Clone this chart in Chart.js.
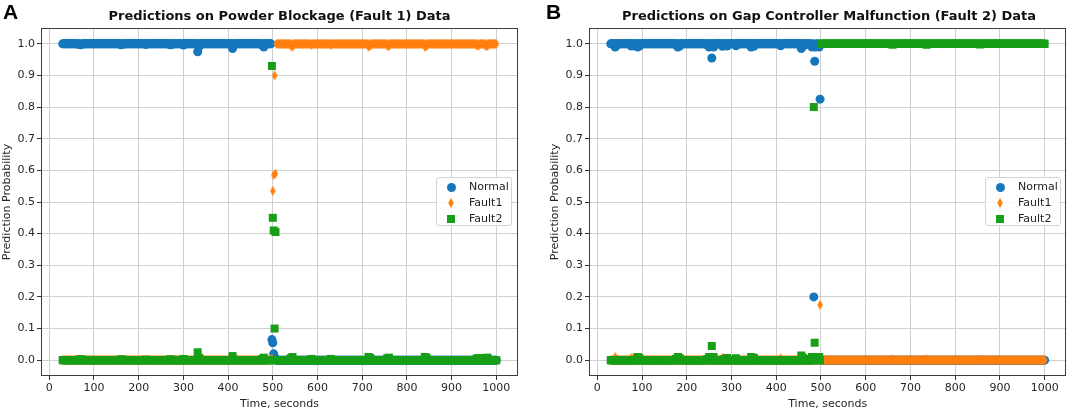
<!DOCTYPE html>
<html>
<head>
<meta charset="utf-8">
<script src="https://cdn.jsdelivr.net/npm/chart.js@4.4.1/dist/chart.umd.min.js"></script>
<style>
  body { margin: 0; background: #fff; }
  #wrap { position: relative; width: 1072px; height: 412px; background: #fff; overflow: hidden; }
  .panel { position: absolute; top: 0; width: 536px; height: 412px; }
  .letter { position: absolute; top: 0; font: bold 21px 'Liberation Sans', Arial, sans-serif; color: #000; }
  .title { position: absolute; top: 8px; text-align: center; font: bold 13px 'DejaVu Sans', sans-serif; color: #111; white-space: nowrap; }
  .legend { position: absolute; top: 177px; width: 76px; height: 49px; box-sizing: border-box; padding-top: 1px;
            border: 1px solid #d4d4d4; border-radius: 3px; background: rgba(255,255,255,0.85);
            font: 11px 'DejaVu Sans', sans-serif; color: #222; }
  .legend .row { position: relative; height: 16px; line-height: 16px; }
  .legend .row canvas { position: absolute; top: 50%; }
  .legend .row span { position: absolute; left: 32px; top: 0; }
</style>
</head>
<body>
<div id="wrap">
  <div class="panel" style="left:0"><canvas id="chartA" width="536" height="412"></canvas></div>
  <div class="panel" style="left:536px"><canvas id="chartB" width="536" height="412"></canvas></div>
  <div class="letter" style="left:3px">A</div>
  <div class="letter" style="left:546px">B</div>
  <div class="title" style="left:41px;width:477px">Predictions on Powder Blockage (Fault 1) Data</div>
  <div class="title" style="left:590px;width:478px">Predictions on Gap Controller Malfunction (Fault 2) Data</div>
  <div class="legend" id="legendA" style="left:436px"></div>
  <div class="legend" id="legendB" style="left:985px"></div>
</div>
<script>
// ---- data ----
const seriesNames = ['Normal', 'Fault1', 'Fault2'];
const seriesColors = ['#1677bd', '#ff7f0e', '#179f17'];
const seriesShapes = ['circle', 'diamond', 'square'];

const xTicks = [0, 100, 200, 300, 400, 500, 600, 700, 800, 900, 1000];
const yTicks = [0, 0.1, 0.2, 0.3, 0.4, 0.5, 0.6, 0.7, 0.8, 0.9, 1.0];

// sample times (s), shared by both runs; 20 per row
const timeSec = [
  30, 32, 34, 36, 38, 40, 42, 44, 46, 48,  50, 52, 54, 56, 58, 60, 62, 64, 66, 68,
  70, 72, 74, 76, 78, 80, 82, 84, 86, 88,  90, 92, 94, 96, 98, 100, 102, 104, 106, 108,
  110, 112, 114, 116, 118, 120, 122, 124, 126, 128,  130, 132, 134, 136, 138, 140, 142, 144, 146, 148,
  150, 152, 154, 156, 158, 160, 162, 164, 166, 168,  170, 172, 174, 176, 178, 180, 182, 184, 186, 188,
  190, 192, 194, 196, 198, 200, 202, 204, 206, 208,  210, 212, 214, 216, 218, 220, 222, 224, 226, 228,
  230, 232, 234, 236, 238, 240, 242, 244, 246, 248,  250, 252, 254, 256, 258, 260, 262, 264, 266, 268,
  270, 272, 274, 276, 278, 280, 282, 284, 286, 288,  290, 292, 294, 296, 298, 300, 302, 304, 306, 308,
  310, 312, 314, 316, 318, 320, 322, 324, 326, 328,  330, 332, 334, 336, 338, 340, 342, 344, 346, 348,
  350, 352, 354, 356, 358, 360, 362, 364, 366, 368,  370, 372, 374, 376, 378, 380, 382, 384, 386, 388,
  390, 392, 394, 396, 398, 400, 402, 404, 406, 408,  410, 412, 414, 416, 418, 420, 422, 424, 426, 428,
  430, 432, 434, 436, 438, 440, 442, 444, 446, 448,  450, 452, 454, 456, 458, 460, 462, 464, 466, 468,
  470, 472, 474, 476, 478, 480, 482, 484, 486, 488,  490, 492, 494, 496, 498, 500, 502, 504, 506, 508,
  510, 512, 514, 516, 518, 520, 522, 524, 526, 528,  530, 532, 534, 536, 538, 540, 542, 544, 546, 548,
  550, 552, 554, 556, 558, 560, 562, 564, 566, 568,  570, 572, 574, 576, 578, 580, 582, 584, 586, 588,
  590, 592, 594, 596, 598, 600, 602, 604, 606, 608,  610, 612, 614, 616, 618, 620, 622, 624, 626, 628,
  630, 632, 634, 636, 638, 640, 642, 644, 646, 648,  650, 652, 654, 656, 658, 660, 662, 664, 666, 668,
  670, 672, 674, 676, 678, 680, 682, 684, 686, 688,  690, 692, 694, 696, 698, 700, 702, 704, 706, 708,
  710, 712, 714, 716, 718, 720, 722, 724, 726, 728,  730, 732, 734, 736, 738, 740, 742, 744, 746, 748,
  750, 752, 754, 756, 758, 760, 762, 764, 766, 768,  770, 772, 774, 776, 778, 780, 782, 784, 786, 788,
  790, 792, 794, 796, 798, 800, 802, 804, 806, 808,  810, 812, 814, 816, 818, 820, 822, 824, 826, 828,
  830, 832, 834, 836, 838, 840, 842, 844, 846, 848,  850, 852, 854, 856, 858, 860, 862, 864, 866, 868,
  870, 872, 874, 876, 878, 880, 882, 884, 886, 888,  890, 892, 894, 896, 898, 900, 902, 904, 906, 908,
  910, 912, 914, 916, 918, 920, 922, 924, 926, 928,  930, 932, 934, 936, 938, 940, 942, 944, 946, 948,
  950, 952, 954, 956, 958, 960, 962, 964, 966, 968,  970, 972, 974, 976, 978, 980, 982, 984, 986, 988,
  990, 992, 994, 996, 998, 1000
];

// Panel A: powder blockage (fault 1) run
const normalA = [
  1, 1, 1, 1, 1, 1, 1, 1, 1, 1,  1, 1, 1, 1, 1, 1, 1, 1, 0.998, 1,
  0.997, 0.998, 1, 1, 1, 1, 1, 1, 1, 1,  1, 1, 1, 1, 1, 1, 1, 1, 1, 1,
  1, 1, 1, 1, 1, 1, 1, 1, 1, 1,  1, 1, 1, 1, 1, 1, 1, 1, 1, 1,
  1, 1, 1, 1, 1, 0.997, 1, 0.998, 1, 1,  1, 1, 1, 1, 1, 1, 1, 1, 1, 1,
  1, 1, 1, 1, 1, 1, 1, 1, 1, 1,  1, 1, 1, 0.998, 1, 1, 1, 1, 1, 1,
  1, 1, 1, 1, 1, 1, 1, 1, 1, 1,  1, 1, 1, 1, 1, 1, 1, 1, 1, 1,
  0.997, 1, 0.998, 1, 1, 1, 1, 1, 1, 1,  1, 1, 1, 1, 1, 0.996, 1, 1, 1, 1,
  1, 1, 1, 1, 1, 1, 1, 1, 1, 1,  1, 0.975, 1, 0.993, 1, 1, 1, 1, 1, 1,
  1, 1, 1, 1, 1, 1, 1, 1, 1, 1,  1, 1, 1, 1, 1, 1, 1, 1, 1, 1,
  1, 1, 1, 1, 1, 1, 1, 1, 1, 1,  0.985, 1, 0.998, 1, 1, 1, 1, 1, 1, 1,
  1, 1, 1, 1, 1, 1, 1, 1, 1, 1,  1, 1, 1, 1, 1, 1, 1, 1, 1, 1,
  1, 1, 1, 0.996, 1, 0.99, 1, 1, 1, 1,  1, 1, 1, 1, 0.065, 0.055, 0.02, 0.01, 0.005, 0,
  0, 0, 0, 0, 0, 0, 0, 0, 0, 0,  0, 0, 0, 0, 0, 0, 0, 0, 0, 0,
  0, 0, 0, 0, 0, 0, 0, 0, 0, 0,  0, 0, 0, 0, 0, 0, 0, 0, 0, 0,
  0, 0, 0, 0, 0, 0, 0, 0, 0, 0,  0, 0, 0, 0, 0, 0, 0, 0, 0, 0,
  0, 0, 0, 0, 0, 0, 0, 0, 0, 0,  0, 0, 0, 0, 0, 0, 0, 0, 0, 0,
  0, 0, 0, 0, 0, 0, 0, 0, 0, 0,  0, 0, 0, 0, 0, 0, 0, 0, 0, 0,
  0, 0, 0, 0, 0, 0, 0, 0, 0, 0,  0, 0, 0, 0, 0, 0, 0, 0, 0, 0,
  0, 0, 0, 0, 0, 0, 0, 0, 0, 0,  0, 0, 0, 0, 0, 0, 0, 0, 0, 0,
  0, 0, 0, 0, 0, 0, 0, 0, 0, 0,  0, 0, 0, 0, 0, 0, 0, 0, 0, 0,
  0, 0, 0, 0, 0, 0, 0, 0, 0, 0,  0, 0, 0, 0, 0, 0, 0, 0, 0, 0,
  0, 0, 0, 0, 0, 0, 0, 0, 0, 0,  0, 0, 0, 0, 0, 0, 0, 0, 0, 0,
  0, 0, 0, 0, 0, 0, 0, 0, 0, 0,  0, 0, 0, 0, 0, 0, 0, 0, 0, 0,
  0, 0, 0, 0, 0, 0, 0, 0, 0, 0,  0, 0, 0, 0, 0, 0, 0, 0, 0, 0,
  0, 0, 0, 0, 0, 0
];
const fault1A = [
  0, 0, 0, 0, 0, 0, 0, 0, 0, 0,  0, 0, 0, 0, 0, 0, 0, 0, 0, 0,
  0, 0, 0, 0, 0, 0, 0, 0, 0, 0,  0, 0, 0, 0, 0, 0, 0, 0, 0, 0,
  0, 0, 0, 0, 0, 0, 0, 0, 0, 0,  0, 0, 0, 0, 0, 0, 0, 0, 0, 0,
  0, 0, 0, 0, 0, 0, 0, 0, 0, 0,  0, 0, 0, 0, 0, 0, 0, 0, 0, 0,
  0, 0, 0, 0, 0, 0, 0, 0, 0, 0,  0, 0, 0, 0, 0, 0, 0, 0, 0, 0,
  0, 0, 0, 0, 0, 0, 0, 0, 0, 0,  0, 0, 0, 0, 0, 0, 0, 0, 0, 0,
  0, 0, 0, 0, 0, 0, 0, 0, 0, 0,  0, 0, 0, 0, 0, 0, 0, 0, 0, 0,
  0, 0, 0, 0, 0, 0, 0, 0, 0, 0,  0, 0, 0, 0, 0, 0, 0, 0, 0, 0,
  0, 0, 0, 0, 0, 0, 0, 0, 0, 0,  0, 0, 0, 0, 0, 0, 0, 0, 0, 0,
  0, 0, 0, 0, 0, 0, 0, 0, 0, 0,  0, 0, 0, 0, 0, 0, 0, 0, 0, 0,
  0, 0, 0, 0, 0, 0, 0, 0, 0, 0,  0, 0, 0, 0, 0, 0, 0, 0, 0, 0,
  0, 0, 0, 0, 0, 0, 0, 0, 0, 0,  0, 0, 0, 0, 0.005, 0.535, 0.585, 0.9, 0.59, 1,
  1, 1, 1, 1, 1, 1, 1, 1, 1, 1,  1, 1, 1, 1, 1, 0.994, 1, 0.99, 1, 1,
  1, 1, 1, 1, 1, 1, 1, 1, 1, 1,  1, 1, 1, 1, 1, 1, 1, 1, 0.996, 1,
  1, 1, 1, 1, 1, 1, 1, 1, 1, 1,  1, 1, 1, 1, 1, 1, 1, 1, 1, 1,
  0.996, 1, 1, 1, 1, 1, 1, 1, 1, 1,  1, 1, 1, 1, 1, 1, 1, 1, 1, 1,
  1, 1, 1, 1, 1, 1, 1, 1, 1, 1,  1, 1, 1, 1, 1, 1, 1, 1, 1, 1,
  1, 1, 0.99, 1, 0.993, 1, 1, 1, 1, 1,  1, 1, 1, 1, 1, 1, 1, 1, 1, 1,
  1, 1, 1, 0.994, 1, 0.992, 1, 1, 1, 1,  1, 1, 1, 1, 1, 1, 1, 1, 1, 1,
  1, 1, 1, 1, 1, 1, 1, 1, 1, 1,  1, 1, 1, 1, 1, 1, 1, 1, 1, 1,
  1, 1, 1, 1, 1, 0.99, 1, 0.992, 1, 1,  1, 1, 1, 1, 1, 1, 1, 1, 1, 1,
  1, 1, 1, 1, 1, 1, 1, 1, 1, 1,  1, 1, 1, 1, 1, 1, 1, 1, 1, 1,
  1, 1, 1, 1, 1, 1, 1, 1, 1, 1,  1, 1, 1, 1, 1, 1, 1, 1, 1, 1,
  1, 1, 1, 0.995, 1, 0.993, 1, 1, 1, 1,  1, 1, 1, 0.993, 1, 0.992, 1, 1, 1, 1,
  1, 1, 1, 1, 1, 1
];
const fault2A = [
  0, 0, 0, 0, 0, 0, 0, 0, 0, 0,  0, 0, 0, 0, 0, 0, 0, 0, 0.002, 0,
  0.003, 0.002, 0, 0, 0, 0, 0, 0, 0, 0,  0, 0, 0, 0, 0, 0, 0, 0, 0, 0,
  0, 0, 0, 0, 0, 0, 0, 0, 0, 0,  0, 0, 0, 0, 0, 0, 0, 0, 0, 0,
  0, 0, 0, 0, 0, 0.003, 0, 0.002, 0, 0,  0, 0, 0, 0, 0, 0, 0, 0, 0, 0,
  0, 0, 0, 0, 0, 0, 0, 0, 0, 0,  0, 0, 0, 0.002, 0, 0, 0, 0, 0, 0,
  0, 0, 0, 0, 0, 0, 0, 0, 0, 0,  0, 0, 0, 0, 0, 0, 0, 0, 0, 0,
  0.003, 0, 0.002, 0, 0, 0, 0, 0, 0, 0,  0, 0, 0, 0, 0, 0.004, 0, 0, 0, 0,
  0, 0, 0, 0, 0, 0, 0, 0, 0, 0,  0, 0.025, 0, 0.007, 0, 0, 0, 0, 0, 0,
  0, 0, 0, 0, 0, 0, 0, 0, 0, 0,  0, 0, 0, 0, 0, 0, 0, 0, 0, 0,
  0, 0, 0, 0, 0, 0, 0, 0, 0, 0,  0.013, 0, 0.002, 0, 0, 0, 0, 0, 0, 0,
  0, 0, 0, 0, 0, 0, 0, 0, 0, 0,  0, 0, 0, 0, 0, 0, 0, 0, 0, 0,
  0, 0, 0, 0.004, 0, 0.008, 0, 0, 0, 0,  0, 0, 0, 0, 0.93, 0.45, 0.41, 0.1, 0.405, 0,
  0, 0, 0, 0, 0, 0, 0, 0, 0, 0,  0, 0, 0, 0, 0, 0.006, 0, 0.01, 0, 0,
  0, 0, 0, 0, 0, 0, 0, 0, 0, 0,  0, 0, 0, 0, 0, 0, 0, 0, 0.004, 0,
  0, 0, 0, 0, 0, 0, 0, 0, 0, 0,  0, 0, 0, 0, 0, 0, 0, 0, 0, 0,
  0.004, 0, 0, 0, 0, 0, 0, 0, 0, 0,  0, 0, 0, 0, 0, 0, 0, 0, 0, 0,
  0, 0, 0, 0, 0, 0, 0, 0, 0, 0,  0, 0, 0, 0, 0, 0, 0, 0, 0, 0,
  0, 0, 0.01, 0, 0.007, 0, 0, 0, 0, 0,  0, 0, 0, 0, 0, 0, 0, 0, 0, 0,
  0, 0, 0, 0.006, 0, 0.008, 0, 0, 0, 0,  0, 0, 0, 0, 0, 0, 0, 0, 0, 0,
  0, 0, 0, 0, 0, 0, 0, 0, 0, 0,  0, 0, 0, 0, 0, 0, 0, 0, 0, 0,
  0, 0, 0, 0, 0, 0.01, 0, 0.008, 0, 0,  0, 0, 0, 0, 0, 0, 0, 0, 0, 0,
  0, 0, 0, 0, 0, 0, 0, 0, 0, 0,  0, 0, 0, 0, 0, 0, 0, 0, 0, 0,
  0, 0, 0, 0, 0, 0, 0, 0, 0, 0,  0, 0, 0, 0, 0, 0, 0, 0, 0, 0,
  0, 0, 0, 0.005, 0, 0.007, 0, 0, 0, 0,  0, 0, 0, 0.007, 0, 0.008, 0, 0, 0, 0,
  0, 0, 0, 0, 0, 0
];

// Panel B: gap controller malfunction (fault 2) run
const normalB = [
  1, 1, 1, 1, 1, 0.99, 1, 0.996, 1, 1,  1, 1, 1, 1, 1, 1, 1, 1, 1, 1,
  1, 1, 1, 0.993, 1, 0.994, 1, 1, 1, 1,  0.99, 1, 0.993, 1, 1, 1, 1, 1, 1, 1,
  1, 1, 1, 1, 1, 1, 1, 1, 1, 1,  1, 1, 1, 1, 1, 1, 1, 1, 1, 1,
  1, 1, 1, 1, 1, 1, 1, 1, 1, 1,  1, 1, 1, 0.996, 1, 0.99, 1, 0.993, 1, 1,
  1, 1, 1, 1, 1, 1, 1, 1, 1, 1,  1, 1, 1, 1, 1, 1, 1, 1, 1, 1,
  1, 1, 1, 1, 1, 1, 1, 1, 0.996, 1,  0.99, 1, 1, 0.955, 1, 0.99, 1, 1, 1, 1,
  1, 1, 1, 1, 1, 0.992, 1, 0.996, 1, 1,  0.993, 1, 1, 1, 1, 1, 1, 1, 1, 1,
  0.994, 1, 1, 1, 1, 1, 1, 1, 1, 1,  1, 1, 1, 1, 1, 1, 1, 0.99, 1, 1,
  0.992, 1, 1, 1, 1, 1, 1, 1, 1, 1,  1, 1, 1, 1, 1, 1, 1, 1, 1, 1,
  1, 1, 1, 1, 1, 1, 1, 1, 1, 1,  0.994, 1, 1, 1, 1, 1, 1, 1, 1, 1,
  1, 1, 1, 1, 1, 1, 1, 1, 1, 1,  1, 1, 1, 0.985, 1, 0.992, 1, 1, 1, 1,
  1, 1, 1, 0.996, 1, 0.99, 1, 0.2, 0.945, 0.99,  1, 0.995, 1, 0.99, 0.825, 0, 0, 0, 0, 0,
  0, 0, 0, 0, 0, 0, 0, 0, 0, 0,  0, 0, 0, 0, 0, 0, 0, 0, 0, 0,
  0, 0, 0, 0, 0, 0, 0, 0, 0, 0,  0, 0, 0, 0, 0, 0, 0, 0, 0, 0,
  0, 0, 0, 0, 0, 0, 0, 0, 0, 0,  0, 0, 0, 0, 0, 0, 0, 0, 0, 0,
  0, 0, 0, 0, 0, 0, 0, 0, 0, 0,  0, 0, 0, 0, 0, 0, 0, 0, 0, 0,
  0, 0, 0, 0, 0, 0, 0, 0, 0, 0,  0, 0, 0, 0, 0, 0, 0, 0, 0, 0,
  0, 0, 0, 0, 0, 0, 0, 0, 0, 0,  0, 0, 0, 0, 0, 0, 0, 0, 0, 0,
  0, 0, 0, 0, 0, 0, 0, 0, 0, 0,  0, 0, 0, 0, 0, 0, 0, 0, 0, 0,
  0, 0, 0, 0, 0, 0, 0, 0, 0, 0,  0, 0, 0, 0, 0, 0, 0, 0, 0, 0,
  0, 0, 0, 0, 0, 0, 0, 0, 0, 0,  0, 0, 0, 0, 0, 0, 0, 0, 0, 0,
  0, 0, 0, 0, 0, 0, 0, 0, 0, 0,  0, 0, 0, 0, 0, 0, 0, 0, 0, 0,
  0, 0, 0, 0, 0, 0, 0, 0, 0, 0,  0, 0, 0, 0, 0, 0, 0, 0, 0, 0,
  0, 0, 0, 0, 0, 0, 0, 0, 0, 0,  0, 0, 0, 0, 0, 0, 0, 0, 0, 0,
  0, 0, 0, 0, 0, 0
];
const fault1B = [
  0, 0, 0, 0, 0, 0.01, 0, 0.004, 0, 0,  0, 0, 0, 0, 0, 0, 0, 0, 0, 0,
  0, 0, 0, 0.007, 0, 0.006, 0, 0, 0, 0,  0, 0, 0, 0, 0, 0, 0, 0, 0, 0,
  0, 0, 0, 0, 0, 0, 0, 0, 0, 0,  0, 0, 0, 0, 0, 0, 0, 0, 0, 0,
  0, 0, 0, 0, 0, 0, 0, 0, 0, 0,  0, 0, 0, 0, 0, 0, 0, 0, 0, 0,
  0, 0, 0, 0, 0, 0, 0, 0, 0, 0,  0, 0, 0, 0, 0, 0, 0, 0, 0, 0,
  0, 0, 0, 0, 0, 0, 0, 0, 0, 0,  0, 0, 0, 0, 0, 0, 0, 0, 0, 0,
  0, 0, 0, 0, 0, 0.008, 0, 0, 0, 0,  0, 0, 0, 0, 0, 0, 0, 0, 0, 0,
  0, 0, 0, 0, 0, 0, 0, 0, 0, 0,  0, 0, 0, 0, 0, 0, 0, 0, 0, 0,
  0, 0, 0, 0, 0, 0, 0, 0, 0, 0,  0, 0, 0, 0, 0, 0, 0, 0, 0, 0,
  0, 0, 0, 0, 0, 0, 0, 0, 0, 0,  0.006, 0, 0, 0, 0, 0, 0, 0, 0, 0,
  0, 0, 0, 0, 0, 0, 0, 0, 0, 0,  0, 0, 0, 0, 0, 0, 0, 0, 0, 0,
  0, 0, 0, 0, 0, 0, 0, 0, 0, 0,  0, 0, 0, 0, 0.175, 0, 0, 0, 0, 0,
  0, 0, 0, 0, 0, 0, 0, 0, 0, 0,  0, 0, 0, 0, 0, 0, 0, 0, 0, 0,
  0, 0, 0, 0, 0, 0, 0, 0, 0, 0,  0, 0, 0, 0, 0, 0, 0, 0, 0, 0,
  0, 0, 0, 0, 0, 0, 0, 0, 0, 0,  0, 0, 0, 0, 0, 0, 0, 0, 0, 0,
  0, 0, 0, 0, 0, 0, 0, 0, 0, 0,  0, 0, 0, 0, 0, 0.003, 0, 0, 0, 0,
  0, 0, 0, 0, 0, 0, 0, 0, 0, 0,  0, 0, 0, 0, 0, 0, 0, 0, 0, 0,
  0, 0, 0, 0, 0, 0, 0, 0, 0, 0,  0, 0, 0, 0.003, 0, 0, 0, 0, 0, 0,
  0, 0, 0, 0, 0, 0, 0, 0, 0, 0,  0, 0, 0, 0, 0, 0, 0, 0, 0, 0,
  0, 0, 0, 0, 0, 0, 0, 0, 0, 0,  0, 0, 0, 0, 0, 0, 0, 0, 0, 0,
  0, 0, 0, 0, 0, 0, 0, 0, 0, 0,  0, 0, 0, 0.002, 0, 0, 0, 0, 0, 0,
  0, 0, 0, 0, 0, 0, 0, 0, 0, 0,  0, 0, 0, 0, 0, 0, 0, 0, 0, 0,
  0, 0, 0, 0, 0, 0, 0, 0, 0, 0,  0, 0, 0, 0, 0, 0, 0, 0, 0, 0,
  0, 0, 0, 0, 0, 0, 0, 0, 0, 0,  0, 0, 0, 0, 0, 0, 0, 0, 0, 0,
  0, 0, 0, 0, 0, 0
];
const fault2B = [
  0, 0, 0, 0, 0, 0, 0, 0, 0, 0,  0, 0, 0, 0, 0, 0, 0, 0, 0, 0,
  0, 0, 0, 0, 0, 0, 0, 0, 0, 0,  0.01, 0, 0.007, 0, 0, 0, 0, 0, 0, 0,
  0, 0, 0, 0, 0, 0, 0, 0, 0, 0,  0, 0, 0, 0, 0, 0, 0, 0, 0, 0,
  0, 0, 0, 0, 0, 0, 0, 0, 0, 0,  0, 0, 0, 0.004, 0, 0.01, 0, 0.007, 0, 0,
  0, 0, 0, 0, 0, 0, 0, 0, 0, 0,  0, 0, 0, 0, 0, 0, 0, 0, 0, 0,
  0, 0, 0, 0, 0, 0, 0, 0, 0.004, 0,  0.01, 0, 0, 0.045, 0, 0.01, 0, 0, 0, 0,
  0, 0, 0, 0, 0, 0, 0, 0.004, 0, 0,  0.007, 0, 0, 0, 0, 0, 0, 0, 0, 0,
  0.006, 0, 0, 0, 0, 0, 0, 0, 0, 0,  0, 0, 0, 0, 0, 0, 0, 0.01, 0, 0,
  0.008, 0, 0, 0, 0, 0, 0, 0, 0, 0,  0, 0, 0, 0, 0, 0, 0, 0, 0, 0,
  0, 0, 0, 0, 0, 0, 0, 0, 0, 0,  0, 0, 0, 0, 0, 0, 0, 0, 0, 0,
  0, 0, 0, 0, 0, 0, 0, 0, 0, 0,  0, 0, 0, 0.015, 0, 0.008, 0, 0, 0, 0,
  0, 0, 0, 0.004, 0, 0.01, 0, 0.8, 0.055, 0.01,  0, 0.005, 0, 0.01, 0, 1, 1, 1, 1, 1,
  1, 1, 1, 1, 1, 1, 1, 1, 1, 1,  1, 1, 1, 1, 1, 1, 1, 1, 1, 1,
  1, 1, 1, 1, 1, 1, 1, 1, 1, 1,  1, 1, 1, 1, 1, 1, 1, 1, 1, 1,
  1, 1, 1, 1, 1, 1, 1, 1, 1, 1,  1, 1, 1, 1, 1, 1, 1, 1, 1, 1,
  1, 1, 1, 1, 1, 1, 1, 1, 1, 1,  1, 1, 1, 1, 1, 0.997, 1, 1, 1, 1,
  1, 1, 1, 1, 1, 1, 1, 1, 1, 1,  1, 1, 1, 1, 1, 1, 1, 1, 1, 1,
  1, 1, 1, 1, 1, 1, 1, 1, 1, 1,  1, 1, 1, 0.997, 1, 1, 1, 1, 1, 1,
  1, 1, 1, 1, 1, 1, 1, 1, 1, 1,  1, 1, 1, 1, 1, 1, 1, 1, 1, 1,
  1, 1, 1, 1, 1, 1, 1, 1, 1, 1,  1, 1, 1, 1, 1, 1, 1, 1, 1, 1,
  1, 1, 1, 1, 1, 1, 1, 1, 1, 1,  1, 1, 1, 0.998, 1, 1, 1, 1, 1, 1,
  1, 1, 1, 1, 1, 1, 1, 1, 1, 1,  1, 1, 1, 1, 1, 1, 1, 1, 1, 1,
  1, 1, 1, 1, 1, 1, 1, 1, 1, 1,  1, 1, 1, 1, 1, 1, 1, 1, 1, 1,
  1, 1, 1, 1, 1, 1, 1, 1, 1, 1,  1, 1, 1, 1, 1, 1, 1, 1, 1, 1,
  1, 1, 1, 1, 1, 1
];

// ---- drawing ----
const FONT = "'DejaVu Sans', sans-serif";
const CIRCLE_R = 4.5;     // circle marker, px radius
const SQUARE_SIDE = 8;    // square marker, px side
const DIAMOND_W = 6;      // thin diamond marker, px
const DIAMOND_H = 10;

// thin diamond (matplotlib 'd') has no built-in Chart.js style, so it is a small bitmap
function markerImage(shape, color) {
  const c = document.createElement('canvas');
  const w = shape === 'diamond' ? DIAMOND_W : (shape === 'square' ? SQUARE_SIDE : Math.ceil(CIRCLE_R * 2));
  const h = shape === 'diamond' ? DIAMOND_H : w;
  c.width = w;
  c.height = h;
  const g = c.getContext('2d');
  g.fillStyle = color;
  g.beginPath();
  if (shape === 'circle') {
    g.arc(w / 2, h / 2, CIRCLE_R, 0, Math.PI * 2);
  } else if (shape === 'diamond') {
    g.moveTo(w / 2, 0);
    g.lineTo(w - 0.25, h / 2);
    g.lineTo(w / 2, h);
    g.lineTo(0.25, h / 2);
    g.closePath();
  } else {
    g.rect(0, 0, w, h);
  }
  g.fill();
  return c;
}

function pointStyleFor(i) {
  const shape = seriesShapes[i];
  if (shape === 'circle') return { pointStyle: 'circle', pointRadius: CIRCLE_R };
  if (shape === 'square') return { pointStyle: 'rect', pointRadius: SQUARE_SIDE / 2 / Math.SQRT1_2 };
  return { pointStyle: markerImage(shape, seriesColors[i]), pointRadius: DIAMOND_H / 2 };
}

function toPoints(times, values) {
  if (times.length !== values.length) console.warn('length mismatch', times.length, values.length);
  return times.map((t, i) => ({ x: t, y: values[i] }));
}

// axes frame drawn on all four sides, like matplotlib spines
const framePlugin = {
  id: 'frame',
  afterDatasetsDraw(chart) {
    const { ctx, chartArea: a } = chart;
    ctx.save();
    ctx.strokeStyle = '#3c3c3c';
    ctx.lineWidth = 1;
    ctx.strokeRect(Math.round(a.left) + 0.5, Math.round(a.top) + 0.5,
      Math.round(a.right - a.left) - 1, Math.round(a.bottom - a.top) - 1);
    ctx.restore();
  }
};

function makePanel(canvasId, times, seriesValues, padding) {
  const datasets = seriesValues.map((vals, i) => Object.assign({
    label: seriesNames[i],
    data: toPoints(times, vals),
    showLine: false,
    backgroundColor: seriesColors[i],
    borderColor: seriesColors[i],
    borderWidth: 0,
    order: 3 - i
  }, pointStyleFor(i)));

  return new Chart(document.getElementById(canvasId), {
    type: 'scatter',
    data: { datasets },
    options: {
      responsive: false,
      animation: false,
      events: [],
      layout: { padding },
      plugins: {
        legend: { display: false },
        tooltip: { enabled: false }
      },
      scales: {
        x: {
          type: 'linear',
          min: -18.5,
          max: 1048.5,
          afterBuildTicks: s => { s.ticks = xTicks.map(v => ({ value: v })); },
          afterFit: s => { s.height = 36; },
          grid: { color: '#cfcfcf', lineWidth: 1, tickColor: '#333', tickLength: 4 },
          border: { display: false },
          ticks: {
            color: '#262626',
            font: { family: FONT, size: 11 },
            padding: 2,
            maxRotation: 0,
            callback: v => String(v)
          },
          title: {
            display: true,
            text: 'Time, seconds',
            color: '#262626',
            font: { family: FONT, size: 11 },
            padding: { top: 0, bottom: 1 }
          }
        },
        y: {
          min: -0.05,
          max: 1.05,
          afterBuildTicks: s => { s.ticks = yTicks.map(v => ({ value: v })); },
          afterFit: s => { s.width = 41; },
          grid: { color: '#cfcfcf', lineWidth: 1, tickColor: '#333', tickLength: 4 },
          border: { display: false },
          ticks: {
            color: '#262626',
            font: { family: FONT, size: 11 },
            padding: 2,
            callback: v => Number(v).toFixed(1)
          },
          title: {
            display: true,
            text: 'Prediction Probability',
            color: '#262626',
            font: { family: FONT, size: 11 },
            padding: { top: 1, bottom: 0 }
          }
        }
      }
    },
    plugins: [framePlugin]
  });
}

function buildLegend(id) {
  const box = document.getElementById(id);
  seriesNames.forEach((name, i) => {
    const row = document.createElement('div');
    row.className = 'row';
    const mark = markerImage(seriesShapes[i], seriesColors[i]);
    mark.style.left = (14 - mark.width / 2) + 'px';
    mark.style.marginTop = (-mark.height / 2) + 'px';
    const label = document.createElement('span');
    label.textContent = name;
    row.appendChild(mark);
    row.appendChild(label);
    box.appendChild(row);
  });
}

makePanel('chartA', timeSec, [normalA, fault1A, fault2A], { left: 0, right: 18, top: 28, bottom: 0 });
makePanel('chartB', timeSec, [normalB, fault1B, fault2B], { left: 12, right: 4, top: 28, bottom: 0 });
buildLegend('legendA');
buildLegend('legendB');
</script>
</body>
</html>
